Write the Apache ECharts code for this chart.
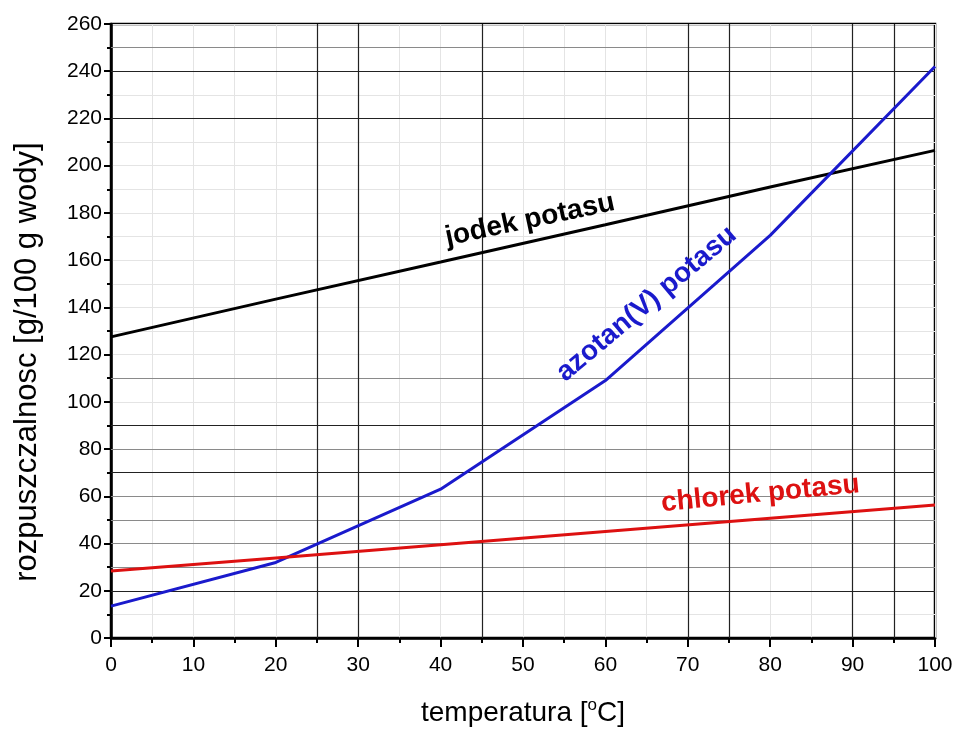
<!DOCTYPE html>
<html><head><meta charset="utf-8">
<script src="https://cdn.jsdelivr.net/npm/echarts@6/dist/echarts.min.js"></script>
<style>html,body{margin:0;padding:0;background:#fff}#c{width:956px;height:734px}</style>
</head><body><div id="c"></div>
<script>
// ---- data ----
const temps = [0, 20, 40, 60, 80, 100];
const jodekPotasu = [127.5, 143.5, 159.2, 175, 191, 206.5];
const azotanPotasu = [13.5, 32, 63, 109, 170.5, 242];
const chlorekPotasu = [28.4, 33.9, 39.5, 45.1, 50.7, 56.3];
const xTickLabels = [0, 10, 20, 30, 40, 50, 60, 70, 80, 90, 100];
const yTickLabels = [0, 20, 40, 60, 80, 100, 120, 140, 160, 180, 200, 220, 240, 260];
// emphasised graph-paper lines
const darkX = [25, 30, 45, 70, 75, 90, 95];
const darkY = [20, 70, 90, 220, 240];
const midY = [30, 40, 50, 60, 80, 110, 250];
const seriesLabels = [
  { text: 'jodek potasu', x: 50.85, y: 177.0, rot: 12, color: '#000000' },
  { text: 'azotan(V) potasu', x: 65.0, y: 141.5, rot: 40, color: '#1a1acc' },
  { text: 'chlorek potasu', x: 78.8, y: 61.0, rot: 5.5, color: '#dd1111' }
];

const FONT = 'Liberation Sans';
const pairs = (ys) => temps.map((t, i) => [t, ys[i]]);
const chart = echarts.init(document.getElementById('c'), null, { renderer: 'canvas' });

const lightGrid = { show: true, lineStyle: { color: '#e4e4e4', width: 1 } };

chart.setOption({
  animation: false,
  backgroundColor: '#ffffff',
  grid: { left: 111, right: 21, top: 24, bottom: 96, show: true, borderColor: '#000', borderWidth: 2.5, backgroundColor: 'transparent' },
  xAxis: {
    type: 'value',
    min: xTickLabels[0], max: xTickLabels[xTickLabels.length - 1], interval: xTickLabels[1] - xTickLabels[0],
    name: 'temperatura [{s|o}C]',
    nameLocation: 'middle', nameGap: 59,
    nameTextStyle: { fontFamily: FONT, fontSize: 28, color: '#000',
      rich: { s: { fontFamily: FONT, fontSize: 17, color: '#000', verticalAlign: 'top', padding: [0, 0, 16, 0] } } },
    axisLine: { show: true, onZero: false, lineStyle: { color: '#000', width: 2.5 } },
    axisTick: { show: true, inside: false, length: 9, lineStyle: { color: '#000', width: 2 } },
    minorTick: { show: true, splitNumber: 2, length: 5, lineStyle: { color: '#000', width: 2 } },
    axisLabel: { fontFamily: FONT, fontSize: 21, color: '#000', margin: 17 },
    splitLine: lightGrid,
    minorSplitLine: lightGrid
  },
  yAxis: {
    type: 'value',
    min: yTickLabels[0], max: yTickLabels[yTickLabels.length - 1], interval: yTickLabels[1] - yTickLabels[0],
    name: 'rozpuszczalnosc [g/100 g wody]',
    nameLocation: 'middle', nameGap: 68,
    nameTextStyle: { fontFamily: FONT, fontSize: 31, color: '#000', padding: [0, 62, 0, 0] },
    axisLine: { show: true, onZero: false, lineStyle: { color: '#000', width: 2.5 } },
    axisTick: { show: true, inside: false, length: 7, lineStyle: { color: '#000', width: 2 } },
    minorTick: { show: true, splitNumber: 2, length: 4, lineStyle: { color: '#000', width: 2 } },
    axisLabel: { fontFamily: FONT, fontSize: 21, color: '#000', margin: 9 },
    splitLine: lightGrid,
    minorSplitLine: lightGrid
  },
  series: [
    { type: 'line', data: [], z: 1, silent: true,
      markLine: { silent: true, symbol: 'none', label: { show: false }, animation: false,
        data: [
          ...midY.map(v => ({ yAxis: v, lineStyle: { color: '#8a8a8a', width: 1.2, type: 'solid' } })),
          ...darkY.map(v => ({ yAxis: v, lineStyle: { color: '#222', width: 1.2, type: 'solid' } })),
          ...darkX.map(v => ({ xAxis: v, lineStyle: { color: '#222', width: 1.2, type: 'solid' } }))
        ] } },
    { name: 'jodek potasu', type: 'line', data: pairs(jodekPotasu), z: 5, showSymbol: false, symbol: 'none',
      lineStyle: { color: '#000000', width: 3 } },
    { name: 'azotan(V) potasu', type: 'line', data: pairs(azotanPotasu), z: 5, showSymbol: false, symbol: 'none',
      lineStyle: { color: '#1a1acc', width: 3 } },
    { name: 'chlorek potasu', type: 'line', data: pairs(chlorekPotasu), z: 5, showSymbol: false, symbol: 'none',
      lineStyle: { color: '#dd1111', width: 3 } }
  ]
});

const graphics = seriesLabels.map(l => {
  const p = chart.convertToPixel({ gridIndex: 0 }, [l.x, l.y]);
  return {
    type: 'text', x: p[0], y: p[1], rotation: l.rot * Math.PI / 180, z: 10,
    style: { text: l.text, fill: l.color, fontFamily: FONT, fontSize: 28, fontWeight: 'bold',
      align: 'center', verticalAlign: 'middle', textAlign: 'center', textVerticalAlign: 'middle' }
  };
});
chart.setOption({ graphic: graphics });
</script></body></html>
